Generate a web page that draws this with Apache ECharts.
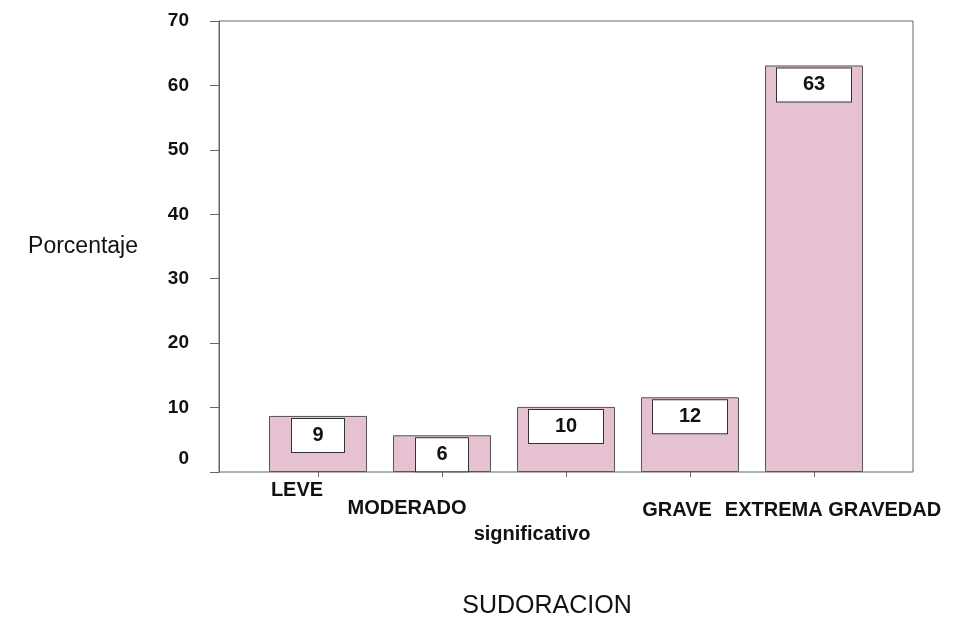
<!DOCTYPE html>
<html>
<head>
<meta charset="utf-8">
<script src="https://cdn.jsdelivr.net/npm/echarts@6/dist/echarts.min.js"></script>
<style>
    html, body { margin: 0; padding: 0; background: #fff; }
    #main { width: 958px; height: 617px; }
</style>
</head>
<body>
<div id="main"></div>
<script>
// 数据
var categories = ['LEVE', 'MODERADO', 'significativo', 'GRAVE', 'EXTREMA GRAVEDAD'];
var barValues = [8.7, 5.7, 10.1, 11.6, 63.1];   // 柱子高度
var valueLabels = ['9', '6', '10', '12', '63'];  // 柱内标注
var yTicks = [0, 10, 20, 30, 40, 50, 60, 70];

var font = "'Liberation Sans', Arial, sans-serif";

// x 轴标签错落排列：[上, 右, 下, 左] 内边距
var labelPads = [
    [0, 42, 0, 0],
    [18, 70, 0, 0],
    [44, 68, 0, 0],
    [20, 26, 0, 0],
    [20, 0, 0, 38]
];

var chart = echarts.init(document.getElementById('main'));

var option = {
    backgroundColor: '#fff',
    animation: false,
    grid: [
        {   // 外框
            left: 219, top: 21, width: 694, height: 451,
            outerBoundsMode: 'none',
            show: true,
            borderColor: '#666',
            borderWidth: 1
        },
        {   // 柱子
            left: 256, top: 21, width: 620, height: 451,
            outerBoundsMode: 'none'
        }
    ],
    xAxis: [
        {
            gridIndex: 0,
            type: 'value',
            show: false
        },
        {
            gridIndex: 1,
            type: 'category',
            data: categories.map(function (c, i) {
                return { value: c, textStyle: { padding: labelPads[i] } };
            }),
            axisLine: { show: false },
            axisTick: {
                show: true,
                alignWithLabel: true,
                length: 5,
                lineStyle: { color: '#666' }
            },
            axisLabel: {
                interval: 0,
                margin: 8,
                color: '#111',
                fontFamily: font,
                fontWeight: 'bold',
                fontSize: 20
            },
            name: 'SUDORACION',
            nameLocation: 'middle',
            nameGap: 122,
            nameTextStyle: {
                color: '#111',
                fontFamily: font,
                fontSize: 25,
                padding: [0, 38, 0, 0]
            }
        }
    ],
    yAxis: [
        {
            gridIndex: 0,
            type: 'value',
            min: yTicks[0],
            max: yTicks[yTicks.length - 1],
            interval: 10,
            axisLine: { show: true, lineStyle: { color: '#666' } },
            axisTick: { show: true, inside: false, length: 9, lineStyle: { color: '#666' } },
            splitLine: { show: false },
            axisLabel: {
                margin: 30,
                color: '#111',
                fontFamily: font,
                fontWeight: 'bold',
                fontSize: 19,
                formatter: function (v) {
                    return v === 0 ? '{z|0}' : String(v);
                },
                rich: {
                    z: {
                        color: '#111',
                        fontFamily: font,
                        fontWeight: 'bold',
                        fontSize: 19,
                        padding: [0, 0, 26, 0]
                    }
                }
            },
            name: 'Porcentaje',
            nameLocation: 'middle',
            nameRotate: 0,
            nameGap: 81,
            nameTextStyle: {
                color: '#111',
                fontFamily: font,
                fontSize: 23,
                align: 'right'
            }
        },
        {
            gridIndex: 1,
            type: 'value',
            min: yTicks[0],
            max: yTicks[yTicks.length - 1],
            show: false
        }
    ],
    series: [
        {
            type: 'bar',
            xAxisIndex: 1,
            yAxisIndex: 1,
            barWidth: 98,
            itemStyle: {
                color: '#e6c1d2',
                borderColor: '#555',
                borderWidth: 1
            },
            label: {
                show: true,
                position: 'insideTop',
                distance: 3,
                formatter: function (p) {
                    return valueLabels[p.dataIndex];
                },
                color: '#111',
                fontFamily: font,
                fontWeight: 'bold',
                fontSize: 20,
                backgroundColor: '#fff',
                borderColor: '#333',
                borderWidth: 1,
                height: 33,
                lineHeight: 33,
                align: 'center',
                padding: [0, 0, 0, 0],
                width: 52
            }
        }
    ]
};

// 两位数标签框加宽
option.series[0].data = barValues.map(function (v, i) {
    return {
        value: v,
        label: { width: valueLabels[i].length > 1 ? 74 : 52 }
    };
});

chart.setOption(option);
</script>
</body>
</html>
